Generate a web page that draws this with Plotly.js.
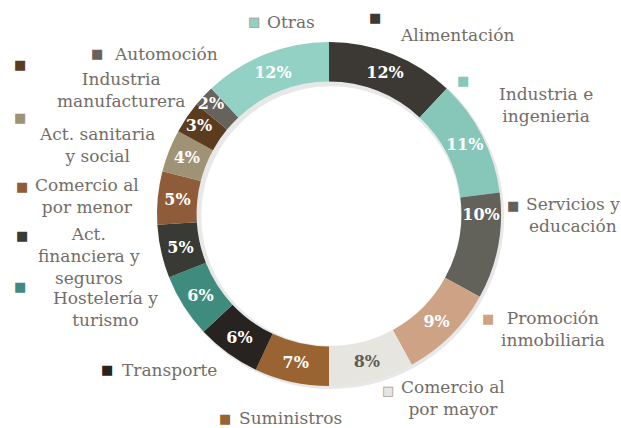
<!DOCTYPE html>
<html><head><meta charset="utf-8">
<script src="https://cdn.plot.ly/plotly-3.0.1.min.js"></script>
<style>html,body{margin:0;padding:0;background:#fff}</style>
</head><body><div id="chart" style="width:621px;height:428px"></div>
<script>
// ---- data ----
const categories = ["Alimentación", "Industria e ingenieria", "Servicios y educación", "Promoción inmobiliaria",
  "Comercio al por mayor", "Suministros", "Transporte", "Hostelería y turismo", "Act. financiera y seguros",
  "Comercio al por menor", "Act. sanitaria y social", "Industria manufacturera", "Automoción", "Otras"];
const values = [12, 11, 10, 9, 8, 7, 6, 6, 5, 5, 4, 3, 2, 12];
const labelText = ["Alimentación", "Industria e<br>ingenieria", "Servicios y<br>educación", "Promoción<br>inmobiliaria",
  "Comercio al<br>por mayor", "Suministros", "Transporte", "Hostelería y<br>turismo", "Act.<br>financiera y<br>seguros",
  "Comercio al<br>por menor", "Act. sanitaria<br>y social", "Industria<br>manufacturera", "Automoción", "Otras"];

// ---- styles ----
const colors = ["#3c3833", "#86c7ba", "#62625a", "#cea385", "#e7e5df", "#996332", "#272320",
  "#3f8b7e", "#3a3a34", "#8e5c38", "#a09375", "#5b3c1f", "#68625c", "#94d1c5"];
const pctColors = colors.map((c, i) => i === 4 ? "#5f5f58" : "#ffffff");
// label layout (pixel positions): [textX, textY, anchor, markerX, markerY]
const labelPos = [
  [398, 35, "left", 375, 18],
  [546, 105, "center", 463, 80],
  [573, 215, "center", 513, 205],
  [553, 329, "center", 488, 318],
  [453, 398, "center", 388, 390],
  [237, 418, "left", 225, 418],
  [120, 370, "left", 107, 369],
  [105, 309, "center", 20, 286],
  [89, 256, "center", 22, 236],
  [87, 196, "center", 22, 186],
  [97, 145, "center", 20, 118],
  [121, 90, "center", 20, 65],
  [112, 54, "left", 97, 54],
  [265, 22, "left", 254, 22]
];
const W = 621, H = 428;
const cx = 329, cy = 214, R = 172;
const px = x => x / W, py = y => 1 - y / H;

const shadow = {
  type: "pie", values: values, sort: false, direction: "clockwise", rotation: 0,
  hole: 0.75, textinfo: "none", hoverinfo: "skip",
  marker: {colors: values.map(() => "rgba(0,0,0,0.09)"), line: {width: 0}},
  domain: {x: [px(cx - R + 1), px(cx + R + 3)], y: [py(cy + R + 3), py(cy - R + 1)]}
};
const ring = {
  type: "pie", labels: categories, values: values, sort: false, direction: "clockwise", rotation: 0,
  hole: 0.77, texttemplate: "%{value}%", textposition: "inside", insidetextorientation: "horizontal",
  textfont: {family: "DejaVu Serif", size: 16, color: pctColors, weight: "bold"},
  marker: {colors: colors, line: {width: 0}},
  domain: {x: [px(cx - R), px(cx + R)], y: [py(cy + R), py(cy - R)]}
};

const annotations = [];
categories.forEach((c, i) => {
  const p = labelPos[i];
  annotations.push({
    xref: "paper", yref: "paper", x: px(p[0]), y: py(p[1]), xanchor: p[2], yanchor: "middle",
    text: labelText[i], showarrow: false, align: "center",
    font: {family: "DejaVu Serif", size: 17, color: "#736d68"}
  });
  annotations.push({
    xref: "paper", yref: "paper", x: px(p[3]), y: py(p[4]), xanchor: "center", yanchor: "middle",
    text: "■", showarrow: false,
    font: {family: "DejaVu Sans", size: 13, color: colors[i]}
  });
  if (i === 4 || i === 13) {
    annotations.push({
      xref: "paper", yref: "paper", x: px(p[3]), y: py(p[4]), xanchor: "center", yanchor: "middle",
      text: "□", showarrow: false,
      font: {family: "DejaVu Sans", size: 13, color: "#a8a6a2"}
    });
  }
});

const layout = {
  width: W, height: H, margin: {l: 0, r: 0, t: 0, b: 0},
  paper_bgcolor: "#ffffff", showlegend: false,
  uniformtext: {mode: "show", minsize: 16},
  annotations: annotations
};
Plotly.newPlot("chart", [shadow, ring], layout, {displayModeBar: false, staticPlot: true});
</script></body></html>
